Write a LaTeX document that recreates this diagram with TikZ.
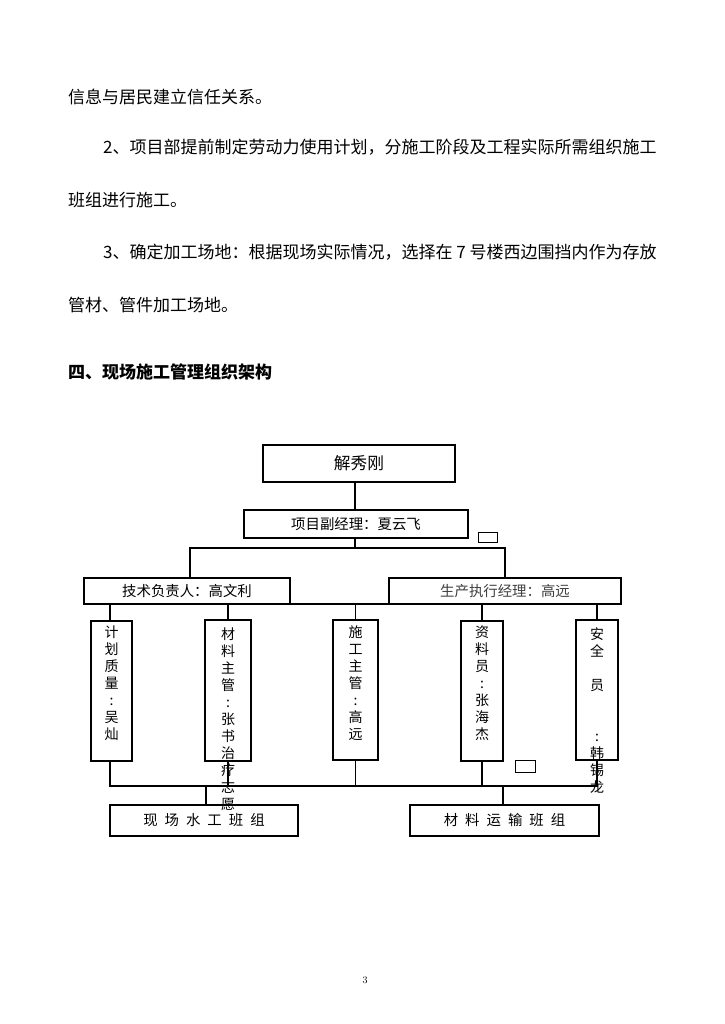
\documentclass[tikz,border=0pt]{standalone}
\usepackage{fontspec}
\newfontfamily\cjk{Noto Sans CJK SC}
\begin{document}
\begin{tikzpicture}[x=1pt,y=-1pt,
  box/.style={draw,line width=1.1pt,inner sep=0pt},
  line/.style={line width=1.1pt},
  body/.style={anchor=west,inner sep=0pt,font=\cjk\fontsize{17}{17}\selectfont},
  vtxt/.style={anchor=north,inner sep=0pt,align=center,font=\cjk\fontsize{14}{17}\selectfont},
  htxt/.style={font=\cjk\fontsize{14.4}{17}\selectfont}
]
\fill[white] (0,0) rectangle (724,1024);
\useasboundingbox (0,0) rectangle (724,1024);

% body text
\node[body] (t1) at (68,97) {信息与居民建立信任关系。};
\node[body] (t2) at (103,147) {2、项目部提前制定劳动力使用计划，分施工阶段及工程实际所需组织施工};
\node[body] (t3) at (68,200) {班组进行施工。};
\node[body] (t4) at (103,252) {3、确定加工场地：根据现场实际情况，选择在 7 号楼西边围挡内作为存放};
\node[body] (t5) at (68,305) {管材、管件加工场地。};
\node[body,font=\cjk\bfseries\fontsize{17}{17}\selectfont] (h) at (68,372) {四、现场施工管理组织架构};

% boxes
\node[box,minimum width=192pt,minimum height=37pt,font=\cjk\fontsize{16.7}{17}\selectfont] (top) at (359,463.5) {解秀刚};
\node[box,htxt,minimum width=224pt,minimum height=28pt] (vice) at (356,524) {项目副经理：夏云飞};
\node[box,htxt,minimum width=206pt,minimum height=26pt] (tech) at (187,591) {技术负责人：高文利};
\node[box,htxt,minimum width=232pt,minimum height=26pt,text=black!75] (prod) at (505,591) {生产执行经理：高远};
\node[box,minimum width=41pt,minimum height=140pt] (c1) at (111.5,691) {};
\node[box,minimum width=46pt,minimum height=141pt] (c2) at (228,690.5) {};
\node[box,minimum width=45pt,minimum height=140pt] (c3) at (355.5,690) {};
\node[box,minimum width=42pt,minimum height=140pt] (c4) at (482,691) {};
\node[box,minimum width=42pt,minimum height=140pt] (c5) at (597,690) {};
\node[box,htxt,minimum width=188pt,minimum height=31pt] (b1) at (204,820.5) {现\hspace{7pt}场\hspace{7pt}水\hspace{7pt}工\hspace{7pt}班\hspace{7pt}组};
\node[box,htxt,minimum width=189pt,minimum height=31pt] (b2) at (504.5,820.5) {材\hspace{7pt}料\hspace{7pt}运\hspace{7pt}输\hspace{7pt}班\hspace{7pt}组};
\node[box,line width=1pt,minimum width=19pt,minimum height=10pt] (s1) at (487.5,537) {};
\node[box,line width=1pt,minimum width=20pt,minimum height=12pt] (s2) at (525,766) {};

% junction coordinates
\coordinate (xa) at (355,0);
\coordinate (j1) at (355,548);
\coordinate (j2) at (190,548);
\coordinate (j3) at (505,548);
\coordinate (r1) at (110,604);
\coordinate (r5) at (597,604);
\coordinate (q1) at (110,786);
\coordinate (q5) at (597,786);
\coordinate (q2) at (206,786);
\coordinate (q3) at (503,786);

% connectors
\draw[line] (top.south -| xa) -- (vice.north -| xa);
\draw[line] (vice.south -| j1) -- (j1);
\draw[line] (tech.north -| j2) -- (j2) -- (j3) -- (prod.north -| j3);
\draw[line] (r1) -- (r5);
\draw[line] (c1.north -| r1) -- (r1);
\draw[line] (c2.north) -- (c2.north |- r1);
\draw[line] (c3.north) -- (c3.north |- r1);
\draw[line] (c4.north) -- (c4.north |- r1);
\draw[line] (c5.north -| r5) -- (r5);
\draw[line] (c1.south -| q1) -- (q1) -- (q5) -- (c5.south -| q5);
\draw[line] (c2.south) -- (c2.south |- q1);
\draw[line] (c3.south) -- (c3.south |- q1);
\draw[line] (c4.south) -- (c4.south |- q1);
\draw[line] (q2) -- (b1.north -| q2);
\draw[line] (q3) -- (b2.north -| q3);

% vertical texts
\node[vtxt] (v1) at (111.5,626) {计\\划\\质\\量\\:\\吴\\灿};
\node[vtxt] (v2) at (228,628) {材\\料\\主\\管\\:\\张\\书\\治\\疗\\志\\愿};
\node[vtxt] (v3) at (355.5,626) {施\\工\\主\\管\\:\\高\\远};
\node[vtxt] (v4) at (482,626) {资\\料\\员\\:\\张\\海\\杰};
\node[vtxt] (v5) at (597,628) {安\\全\\\mbox{}\\员\\\mbox{}\\\mbox{}\\:\\韩\\锡\\龙};

% page number
\node[font=\fontsize{10}{10}\selectfont] (pg) at (365,980) {3};
\end{tikzpicture}
\end{document}
